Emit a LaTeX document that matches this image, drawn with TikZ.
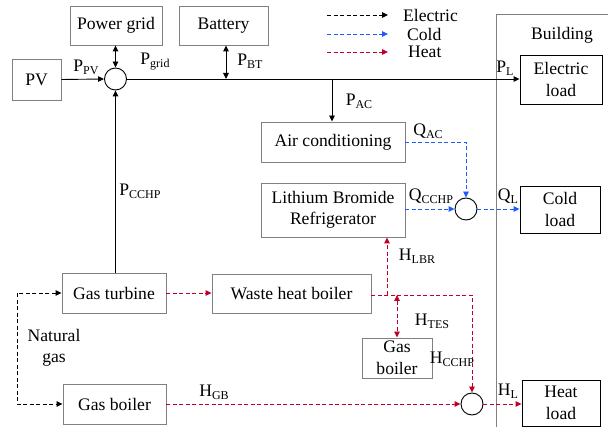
\documentclass[tikz,border=0pt]{standalone}
\usepackage{fontspec}
\setmainfont{Liberation Serif}
\usetikzlibrary{arrows.meta}
\definecolor{boxgray}{RGB}{128,128,128}
\definecolor{heatred}{RGB}{192,0,40}
\definecolor{coldblue}{RGB}{30,90,255}
\newcommand\lsub[1]{\raisebox{-3pt}{\fontsize{12}{12}\selectfont #1}}
\tikzset{
  box/.style={draw=boxgray, line width=0.9pt, align=center, inner sep=0pt, font=\rmfamily\fontsize{17.6}{21.5}\selectfont},
  loadbox/.style={box, draw=black},
  junc/.style={draw=black, line width=0.9pt, circle, minimum size=22pt, inner sep=0pt},
  tip/.style={-{Triangle[length=6pt,width=5.5pt]}},
  dtip/.style={{Triangle[length=6pt,width=5.5pt]}-{Triangle[length=6pt,width=5.5pt]}},
  eline/.style={draw=black, line width=0.9pt},
  edash/.style={draw=black, line width=0.9pt, dash pattern=on 4pt off 2.5pt},
  cdash/.style={draw=coldblue, line width=0.9pt, dash pattern=on 4pt off 2.5pt},
  hdash/.style={draw=heatred, line width=0.9pt, dash pattern=on 4pt off 2.5pt},
  lbl/.style={inner sep=0pt, font=\rmfamily\fontsize{17.6}{21.5}\selectfont, align=center},
}
\begin{document}
\begin{tikzpicture}[x=1pt,y=-1pt]
\useasboundingbox (0,0) rectangle (608,427);
\clip (0,0) rectangle (608,427);
% building
\draw[draw=boxgray, line width=0.9pt] (496,440) -- (496,14) -- (620,14);
\node[lbl] (bld) at (562,35) {Building};
% boxes
\node[box, minimum width=49pt, minimum height=41pt] (pv) at (36.5,79.5) {PV};
\node[box, minimum width=92pt, minimum height=39pt] (grid) at (116,25.5) {Power grid};
\node[box, minimum width=89pt, minimum height=39pt] (bat) at (223.5,25.5) {Battery};
\node[loadbox, minimum width=82pt, minimum height=49pt] (eload) at (561,79.5) {Electric\\load};
\node[box, minimum width=144pt, minimum height=40pt] (ac) at (333,142) {Air conditioning};
\node[box, minimum width=144pt, minimum height=54pt] (libr) at (333,210) {Lithium Bromide\\Refrigerator};
\node[loadbox, minimum width=80pt, minimum height=47pt] (cload) at (560,209.5) {Cold\\load};
\node[box, minimum width=104pt, minimum height=40pt] (gt) at (114,293) {Gas turbine};
\node[box, minimum width=159pt, minimum height=39pt] (whb) at (291.5,293.5) {Waste heat boiler};
\node[box, minimum width=70pt, minimum height=40pt] (tes) at (397,358) {Gas\\boiler};
\node[box, minimum width=103pt, minimum height=40pt] (gb) at (114.5,404) {Gas boiler};
\node[loadbox, minimum width=78pt, minimum height=46pt] (hload) at (561,403) {Heat\\load};
% junctions
\node[junc] (c1) at (115.5,79) {};
\node[junc] (c2) at (466,209) {};
\node[junc] (c3) at (472,404) {};
% coordinates
\coordinate (busbt) at (226,79);
\coordinate (busac) at (332,79);
\coordinate (hb1) at (387,295);
\coordinate (hb2) at (397,295);
\coordinate (ng1) at (17,293);
\coordinate (ng2) at (17,404);
\coordinate (lg1a) at (327,15); \coordinate (lg1b) at (388,15);
\coordinate (lg2a) at (327,34); \coordinate (lg2b) at (388,34);
\coordinate (lg3a) at (327,52); \coordinate (lg3b) at (388,52);
% electric
\draw[eline, tip] (pv.east) -- (c1.west);
\draw[eline, dtip] (grid.south -| c1) -- (c1.north);
\draw[eline, tip] (c1.east) -- (eload.west |- c1);
\draw[eline, dtip] (bat.south -| busbt) -- (busbt);
\draw[eline, tip] (busac) -- (ac.north -| busac);
\draw[eline, tip] (gt.north -| c1) -- (c1.south);
% cold
\draw[cdash, tip] (ac.east) -| (c2.north);
\draw[cdash, tip] (libr.east |- c2) -- (c2.west);
\draw[cdash, tip] (c2.east) -- (cload.west |- c2);
% heat
\draw[hdash, tip] (gt.east) -- (whb.west |- gt);
\draw[hdash, tip] (whb.east |- hb1) -| (c3.north);
\draw[hdash, tip] (hb1) -- (libr.south -| hb1);
\draw[hdash, dtip] (hb2) -- (tes.north -| hb2);
\draw[hdash, tip] (gb.east) -- (c3.west);
\draw[hdash, tip] (c3.east) -- (hload.west |- c3);
% natural gas
\draw[edash, dtip] (gt.west) -- (ng1) -- (ng2) -- (gb.west);
% legend
\draw[edash, tip] (lg1a) -- (lg1b);
\draw[cdash, tip] (lg2a) -- (lg2b);
\draw[hdash, tip] (lg3a) -- (lg3b);
\node[lbl, anchor=west] (le) at (403,15) {Electric};
\node[lbl, anchor=west] (lc) at (407,34) {Cold};
\node[lbl, anchor=west] (lh) at (408,52) {Heat};
% labels
\node[lbl] (lpv) at (86,67) {P\lsub{PV}};
\node[lbl] (lgrid) at (155,62) {P\lsub{grid}};
\node[lbl] (lbt) at (250,61) {P\lsub{BT}};
\node[lbl] (lpl) at (505,68) {P\lsub{L}};
\node[lbl] (lpac) at (359,101) {P\lsub{AC}};
\node[lbl] (lpcchp) at (140,191) {P\lsub{CCHP}};
\node[lbl] (lqac) at (428,131) {Q\lsub{AC}};
\node[lbl] (lqcchp) at (431,196) {Q\lsub{CCHP}};
\node[lbl] (lql) at (508,196) {Q\lsub{L}};
\node[lbl] (lhlbr) at (417,256) {H\lsub{LBR}};
\node[lbl] (lhtes) at (432,321) {H\lsub{TES}};
\node[lbl] (lhcchp) at (452,359) {H\lsub{CCHP}};
\node[lbl] (lhgb) at (214,392) {H\lsub{GB}};
\node[lbl] (lhl) at (508,391) {H\lsub{L}};
\node[lbl] (ng) at (54,348) {Natural\\gas};
\end{tikzpicture}
\end{document}
